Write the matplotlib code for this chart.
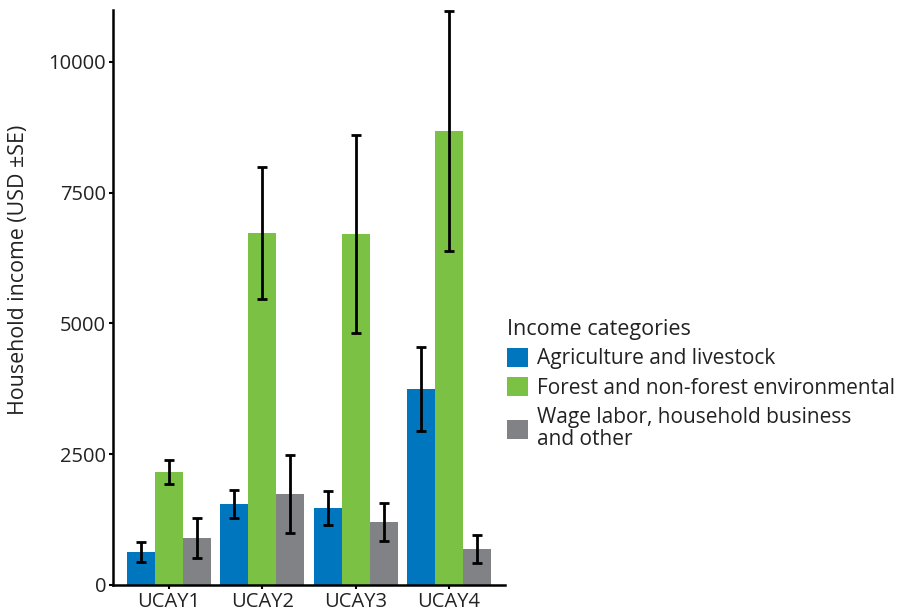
import matplotlib
matplotlib.use("Agg")
import matplotlib.pyplot as plt
import numpy as np

# household income by site and income source (USD, mean and standard error)
sites = ["UCAY1", "UCAY2", "UCAY3", "UCAY4"]
agri = [631, 1549, 1472, 3748]
agri_se = [200, 260, 320, 795]
forest = [2161, 6730, 6711, 8681]
forest_se = [230, 1270, 1900, 2290]
wage = [899, 1740, 1205, 688]
wage_se = [377, 750, 370, 274]

series = [
    ("Agriculture and livestock", agri, agri_se, "#0076BE"),
    ("Forest and non-forest environmental", forest, forest_se, "#7BC143"),
    ("Wage labor, household business\nand other", wage, wage_se, "#808285"),
]

plt.rcParams["font.family"] = ["Open Sans", "DejaVu Sans"]

fig = plt.figure(figsize=(9.07, 6.15), dpi=100)
ax = fig.add_axes([113 / 907, 30 / 615, 392 / 907, 575 / 615])

x = np.arange(1, len(sites) + 1)
width = 0.3
handles = []
for i, (name, vals, se, col) in enumerate(series):
    pos = x + (i - 1) * width
    b = ax.bar(pos, vals, width=width, color=col, label=name, zorder=2)
    handles.append(b)
    ax.errorbar(pos, vals, yerr=se, fmt="none", ecolor="black",
                elinewidth=2.0, capsize=3.8, capthick=2.0, zorder=3)

ax.set_xlim(0.4, 4.6)
ax.set_ylim(0, 10994)
ax.set_xticks(x)
ax.set_xticklabels(sites)
ax.set_yticks([0, 2500, 5000, 7500, 10000])
ax.tick_params(axis="both", labelsize=14.5, length=3, width=1.5,
               color="black", labelcolor="#222222", pad=2)
ax.set_ylabel("Household income (USD ±SE)", fontsize=15.4, color="#222222",
              va="center")
ax.yaxis.set_label_coords(-0.242, 0.548)

for side in ["top", "right"]:
    ax.spines[side].set_visible(False)
for side in ["left", "bottom"]:
    ax.spines[side].set_linewidth(1.8)

leg = ax.legend(handles=handles, title="Income categories",
                loc="upper left", bbox_to_anchor=(507 / 907, 1 - 319 / 615),
                bbox_transform=fig.transFigure, frameon=False,
                fontsize=15, title_fontsize=15.5, alignment="left",
                handlelength=1.0, handleheight=1.0, handletextpad=0.45,
                labelspacing=0.38, borderpad=0, borderaxespad=0)
for t in leg.get_texts():
    t.set_color("#222222")
    t.set_linespacing(1.1)
leg.get_title().set_color("#222222")

fig.savefig("out.png", dpi=100)
